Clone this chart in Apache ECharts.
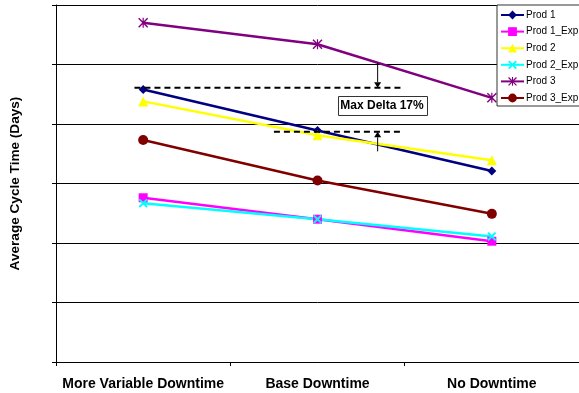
<!DOCTYPE html>
<html>
<head>
<meta charset="utf-8">
<script src="https://cdn.jsdelivr.net/npm/echarts@6/dist/echarts.min.js"></script>
<style>
html,body{margin:0;padding:0;background:#fff;}
#chart{width:579px;height:393px;}
</style>
</head>
<body>
<div id="chart"></div>
<script>
// ---- data ----
var categories = ['More Variable Downtime', 'Base Downtime', 'No Downtime'];
var seriesNames = ['Prod 1', 'Prod 1_Exp', 'Prod 2', 'Prod 2_Exp', 'Prod 3', 'Prod 3_Exp'];
var prod1    = [4.58, 3.89, 3.21];
var prod1Exp = [2.76, 2.40, 2.03];
var prod2    = [4.38, 3.81, 3.39];
var prod2Exp = [2.67, 2.40, 2.11];
var prod3    = [5.70, 5.34, 4.44];
var prod3Exp = [3.73, 3.05, 2.49];
var yTicks = [0, 1, 2, 3, 4, 5, 6];
// annotation: "Max Delta 17%" between the two dashed levels
var deltaLabel = 'Max Delta 17%';
var deltaLevels = [4.61, 3.87];          // upper / lower dashed line values
var deltaLineX = [[-0.05, 1.48], [0.75, 1.48]]; // category-index spans
var deltaArrowX = 1.345;
var deltaArrowEnds = [5.03, 3.54];
var deltaBoxPos = [1.37, 4.315];

var colors = ['#000080', '#FF00FF', '#FFFF00', '#00FFFF', '#800080', '#800000'];
var xPath = 'path://M0,1.5L1.5,0L5,3.5L8.5,0L10,1.5L6.5,5L10,8.5L8.5,10L5,6.5L1.5,10L0,8.5L3.5,5Z';
var starPath = 'path://M0,1L1,0L5,4L9,0L10,1L6,5L10,9L9,10L5,6L1,10L0,9L4,5Z M4.4,0L5.6,0L5.6,10L4.4,10Z';
var symbols = ['diamond', 'rect', 'triangle', xPath, starPath, 'circle'];
var sizes = [9, 9, 10, 9, 10, 10];
var values = [prod1, prod1Exp, prod2, prod2Exp, prod3, prod3Exp];

var chart = echarts.init(document.getElementById('chart'), null, {renderer: 'canvas'});

var series = seriesNames.map(function (n, i) {
  return {
    name: n,
    type: 'line',
    data: values[i],
    symbol: symbols[i],
    symbolSize: sizes[i],
    showSymbol: true,
    animation: false,
    lineStyle: {color: colors[i], width: 2.5},
    itemStyle: {color: colors[i], borderWidth: 0}
  };
});

chart.setOption({
  animation: false,
  backgroundColor: '#fff',
  grid: {left: 55, right: -1, top: 5, bottom: 31, containLabel: false},
  legend: {
    orient: 'vertical',
    left: 497,
    top: 5,
    padding: [5, 3, 3, 3],
    itemWidth: 23,
    itemHeight: 11,
    itemGap: 6.6,
    backgroundColor: '#fff',
    borderColor: '#333',
    borderWidth: 1,
    borderRadius: 0,
    textStyle: {fontFamily: 'Liberation Sans, Arial', fontSize: 10, color: '#000', padding: [0, 0, 0, -3]},
    data: seriesNames
  },
  xAxis: {
    type: 'category',
    data: categories,
    boundaryGap: true,
    axisLine: {lineStyle: {color: '#000', width: 1}},
    axisTick: {show: true, interval: 0, length: 4, lineStyle: {color: '#000'}},
    axisLabel: {interval: 0, margin: 15, color: '#000', fontFamily: 'Liberation Sans, Arial', fontWeight: 'bold', fontSize: 14},
    splitLine: {show: false}
  },
  yAxis: {
    type: 'value',
    min: yTicks[0],
    max: yTicks[yTicks.length - 1],
    interval: 1,
    name: 'Average Cycle Time (Days)',
    nameLocation: 'middle',
    nameRotate: 90,
    nameGap: 34,
    nameTextStyle: {color: '#000', fontFamily: 'Liberation Sans, Arial', fontWeight: 'bold', fontSize: 13.6},
    axisLine: {show: true, lineStyle: {color: '#000', width: 1}},
    axisTick: {show: true, length: 4, lineStyle: {color: '#000'}},
    axisLabel: {show: false},
    splitLine: {show: true, lineStyle: {color: '#000', width: 1}}
  },
  series: series
});

function xPix(idx) {
  var p0 = chart.convertToPixel({xAxisIndex: 0}, 0);
  var p1 = chart.convertToPixel({xAxisIndex: 0}, 1);
  return p0 + (p1 - p0) * idx;
}
function yPix(v) {
  return chart.convertToPixel({yAxisIndex: 0}, v);
}

var ax = xPix(deltaArrowX);
var yl1 = yPix(deltaLevels[0]);
var yl2 = yPix(deltaLevels[1]);
var yTop = yPix(deltaArrowEnds[0]);
var yBot = yPix(deltaArrowEnds[1]);
var bx = xPix(deltaBoxPos[0]);
var by = yPix(deltaBoxPos[1]);
var boxW = 89, boxH = 19, head = 5.5, headHalf = 3.5;

chart.setOption({
  graphic: [
    {type: 'line', z: 50, shape: {x1: xPix(deltaLineX[0][0]), y1: yl1, x2: xPix(deltaLineX[0][1]), y2: yl1},
      style: {stroke: '#000', lineWidth: 2, lineDash: [6, 4]}},
    {type: 'line', z: 50, shape: {x1: xPix(deltaLineX[1][0]), y1: yl2, x2: xPix(deltaLineX[1][1]), y2: yl2},
      style: {stroke: '#000', lineWidth: 2, lineDash: [6, 4]}},
    {type: 'line', z: 50, shape: {x1: ax, y1: yTop, x2: ax, y2: yl1 - head}, style: {stroke: '#000', lineWidth: 1}},
    {type: 'polygon', z: 50, shape: {points: [[ax - headHalf, yl1 - head], [ax + headHalf, yl1 - head], [ax, yl1]]}, style: {fill: '#000'}},
    {type: 'line', z: 50, shape: {x1: ax, y1: yBot, x2: ax, y2: yl2 + head}, style: {stroke: '#000', lineWidth: 1}},
    {type: 'polygon', z: 50, shape: {points: [[ax - headHalf, yl2 + head], [ax + headHalf, yl2 + head], [ax, yl2]]}, style: {fill: '#000'}},
    {type: 'rect', z: 51, shape: {x: Math.round(bx - boxW / 2) + 0.5, y: Math.round(by - boxH / 2) + 0.5, width: boxW, height: boxH},
      style: {fill: '#fff', stroke: '#333', lineWidth: 1}},
    {type: 'text', z: 52, x: bx, y: by + 0.5,
      style: {text: deltaLabel, fill: '#000', font: 'bold 12px "Liberation Sans", Arial', textAlign: 'center', textVerticalAlign: 'middle'}}
  ]
});
</script>
</body>
</html>
